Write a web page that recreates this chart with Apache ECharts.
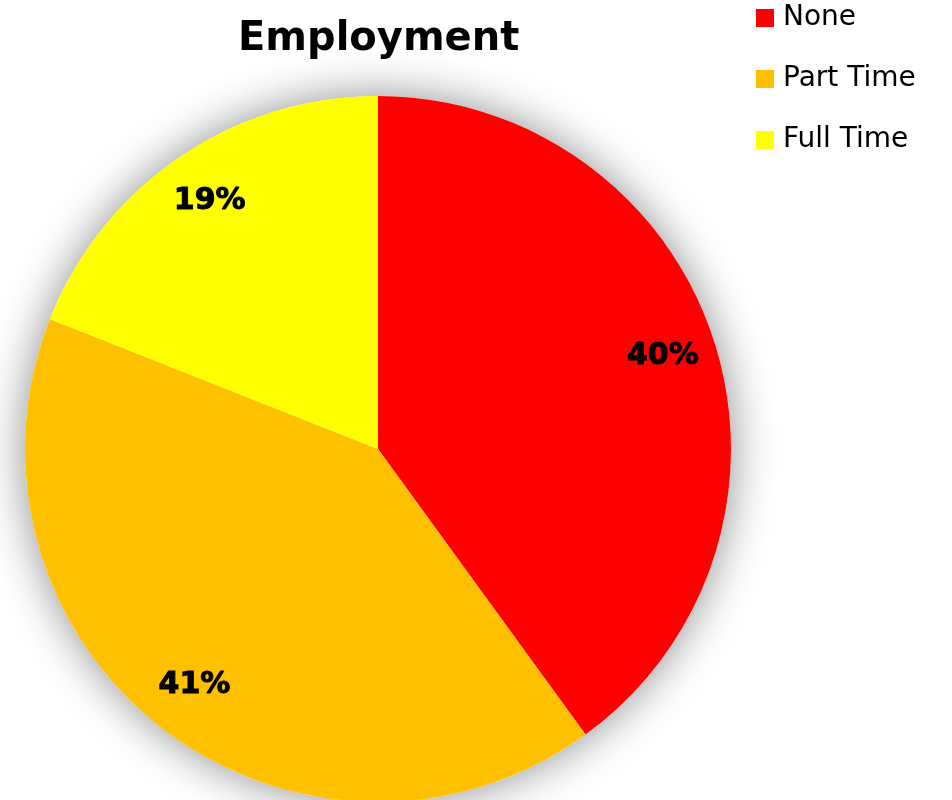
<!DOCTYPE html>
<html>
<head>
<meta charset="utf-8">
<script src="https://cdn.jsdelivr.net/npm/echarts@6/dist/echarts.min.js"></script>
<style>
  html, body { margin: 0; padding: 0; background: #ffffff; }
  #chart { width: 952px; height: 800px; }
</style>
</head>
<body>
<div id="chart"></div>
<script>
// Employment status shares (percent)
const categories = ['None', 'Part Time', 'Full Time'];
const shares = [40, 41, 19];
const sliceColors = ['#ff0000', '#ffc000', '#ffff00'];

const pieCenter = [378, 449];
const pieRadius = 353;

const chart = echarts.init(document.getElementById('chart'), null, { renderer: 'canvas' });

chart.setOption({
  animation: false,
  backgroundColor: '#ffffff',
  title: {
    text: 'Employment',
    left: 233,
    top: 15,
    textStyle: {
      fontFamily: '"DejaVu Sans", sans-serif',
      fontWeight: 'bold',
      fontSize: 40,
      color: '#000000'
    }
  },
  legend: {
    orient: 'vertical',
    left: 756,
    top: 4,
    padding: 0,
    icon: 'rect',
    itemWidth: 18,
    itemHeight: 18,
    itemGap: 33,
    selectedMode: false,
    data: categories,
    textStyle: {
      fontFamily: '"DejaVu Sans", sans-serif',
      fontSize: 28,
      color: '#000000',
      padding: [0, 0, 0, 4]
    }
  },
  series: [
    {
      // soft shadow behind the whole disc
      type: 'pie',
      z: 1,
      center: pieCenter,
      radius: [0, pieRadius],
      silent: true,
      label: { show: false },
      labelLine: { show: false },
      itemStyle: {
        color: '#ffffff',
        shadowBlur: 45,
        shadowColor: 'rgba(0, 0, 0, 0.45)'
      },
      data: [{ name: 'disc', value: 1 }]
    },
    {
      // the coloured slices
      type: 'pie',
      z: 2,
      center: pieCenter,
      radius: [0, pieRadius],
      startAngle: 90,
      clockwise: true,
      silent: true,
      label: { show: false },
      labelLine: { show: false },
      data: categories.map((name, i) => ({
        name: name,
        value: shares[i],
        itemStyle: { color: sliceColors[i] }
      }))
    },
    {
      // transparent ring whose mid-radius carries the percentage labels
      type: 'pie',
      z: 3,
      center: pieCenter,
      radius: [240, pieRadius],
      startAngle: 90,
      clockwise: true,
      silent: true,
      itemStyle: { color: 'rgba(0,0,0,0)' },
      labelLine: { show: false },
      label: {
        show: true,
        position: 'inside',
        formatter: '{c}%',
        fontFamily: '"DejaVu Sans", sans-serif',
        fontWeight: 'bold',
        fontSize: 30,
        color: '#000000',
        textBorderColor: '#000000',
        textBorderWidth: 1
      },
      data: categories.map((name, i) => ({ name: name, value: shares[i] }))
    }
  ]
});
</script>
</body>
</html>
